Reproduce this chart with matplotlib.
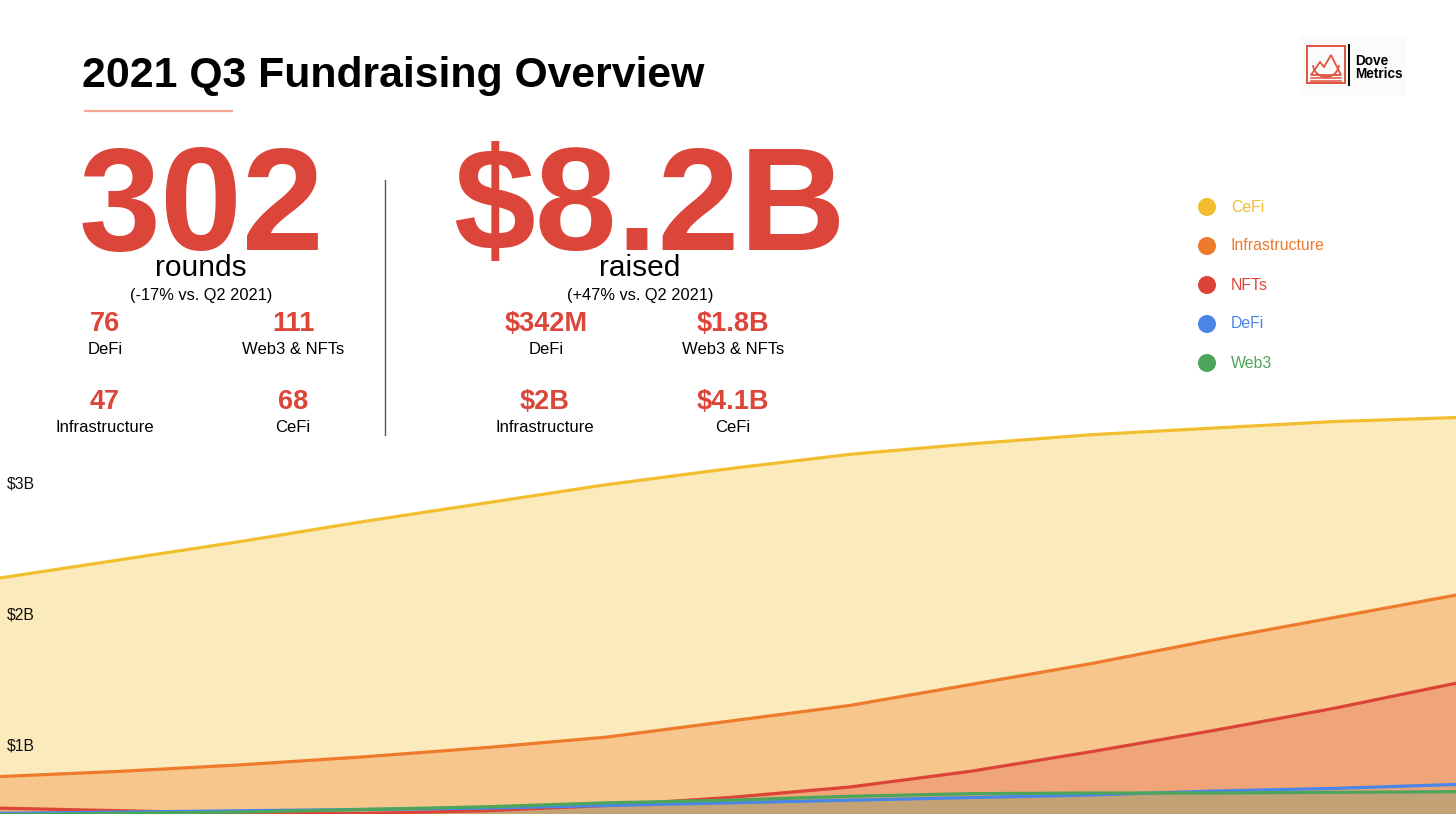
import matplotlib
matplotlib.use("Agg")
import matplotlib.pyplot as plt
from matplotlib.patches import Circle, Rectangle, Polygon, Arc

plt.rcParams['font.family'] = ['Liberation Sans', 'DejaVu Sans']

# ---------------- data (values in $B) ----------------
sample_points = list(range(13))
series_names = ["CeFi", "Infrastructure", "NFTs", "DeFi", "Web3"]
cefi = [2.27, 2.41, 2.55, 2.70, 2.84, 2.98, 3.10, 3.21, 3.29, 3.36, 3.41, 3.46, 3.49]
infrastructure = [0.76, 0.80, 0.85, 0.91, 0.98, 1.06, 1.18, 1.30, 1.46, 1.62, 1.80, 1.97, 2.14]
nfts = [0.52, 0.50, 0.48, 0.48, 0.50, 0.54, 0.60, 0.68, 0.80, 0.95, 1.11, 1.28, 1.47]
defi = [0.48, 0.49, 0.50, 0.51, 0.52, 0.54, 0.56, 0.58, 0.60, 0.62, 0.65, 0.67, 0.70]
web3 = [0.47, 0.48, 0.49, 0.51, 0.53, 0.56, 0.58, 0.61, 0.63, 0.635, 0.635, 0.64, 0.645]
y_ticks = [1, 2, 3]
y_tick_labels = ["$1B", "$2B", "$3B"]

series_colors = ["#F3BE2E", "#EE7A2C", "#DB4437", "#4A86E8", "#4CA55A"]
fill_alphas = [0.32, 0.32, 0.25, 0.06, 0.22]

W, H = 1456, 814
fig = plt.figure(figsize=(W / 100, H / 100), dpi=100)
fig.patch.set_facecolor("white")

# ---------------- chart ----------------
ax = fig.add_axes([0, 0, 1, 1])
ax.set_facecolor("none")
values = [cefi, infrastructure, nfts, defi, web3]
for vals, col, a in zip(values, series_colors, fill_alphas):
    ax.fill_between(sample_points, 0, vals, color=col, alpha=a, lw=0)
for vals, col in zip(values, series_colors):
    ax.plot(sample_points, vals, color=col, lw=2.3, solid_capstyle="round",
            solid_joinstyle="round")

px_per_b = 131.5
zero_px = 876.5
ax.set_xlim(sample_points[0], sample_points[-1])
ax.set_ylim((zero_px - H) / px_per_b, zero_px / px_per_b)
for s in ax.spines.values():
    s.set_visible(False)
ax.set_xticks([])
ax.set_yticks(y_ticks)
ax.set_yticklabels(y_tick_labels)
ax.tick_params(axis="y", length=0, pad=-5, labelsize=11.3, labelcolor="#111111")
for lbl in ax.get_yticklabels():
    lbl.set_horizontalalignment("left")

# ---------------- overlay (pixel coordinates) ----------------
ov = fig.add_axes([0, 0, 1, 1])
ov.set_xlim(0, W)
ov.set_ylim(H, 0)
ov.axis("off")
ov.patch.set_alpha(0)

RED = "#DC4539"

ov.text(82, 87, "2021 Q3 Fundraising Overview", fontsize=30.8, fontweight="bold",
        color="black", ha="left", va="baseline")
ov.plot([85, 232], [111, 111], color="#F4A898", lw=1.6)

# left block
ov.text(201, 250, "302", fontsize=106, fontweight="bold", color=RED, ha="center", va="baseline")
ov.text(201, 276, "rounds", fontsize=21.5, color="black", ha="center", va="baseline")
ov.text(201, 300, "(-17% vs. Q2 2021)", fontsize=11.8, color="black", ha="center", va="baseline")
left_stats = [(105, 331, "76", "DeFi"), (293, 331, "111", "Web3 & NFTs"),
              (105, 409, "47", "Infrastructure"), (293, 409, "68", "CeFi")]
for x, y, num, lab in left_stats:
    ov.text(x, y, num, fontsize=19.5, fontweight="bold", color=RED, ha="center", va="baseline")
    ov.text(x, y + 23, lab, fontsize=12, color="black", ha="center", va="baseline")

ov.plot([385, 385], [180, 435], color="#555555", lw=1)

# right block
ov.text(649, 250, "$8.2B", fontsize=106, fontweight="bold", color=RED, ha="center", va="baseline")
ov.text(640, 276, "raised", fontsize=21.5, color="black", ha="center", va="baseline")
ov.text(640, 300, "(+47% vs. Q2 2021)", fontsize=11.8, color="black", ha="center", va="baseline")
right_stats = [(546, 331, "$342M", "DeFi"), (733, 331, "$1.8B", "Web3 & NFTs"),
               (545, 409, "$2B", "Infrastructure"), (733, 409, "$4.1B", "CeFi")]
for x, y, num, lab in right_stats:
    ov.text(x, y, num, fontsize=19.5, fontweight="bold", color=RED, ha="center", va="baseline")
    ov.text(x, y + 23, lab, fontsize=12, color="black", ha="center", va="baseline")

# legend
legend_y = [207, 246, 285, 324, 363]
for name, col, ly in zip(series_names, series_colors, legend_y):
    ov.add_patch(Circle((1207, ly), 9, color=col, lw=0))
    ov.text(1231, ly, name, fontsize=11.4, color=col, ha="left", va="center")

# logo
LR = "#E0533F"
ov.add_patch(Rectangle((1299, 36), 107, 60, facecolor="#FBFBFB", edgecolor="none"))
ov.add_patch(Rectangle((1307, 46), 38, 37, fill=False, edgecolor=LR, lw=1.4))
ov.add_patch(Arc((1326, 64), 26, 26, theta1=5, theta2=175, color=LR, lw=1.3))
ov.add_patch(Polygon([(1311, 75), (1320, 62), (1324, 67), (1331, 55), (1341, 75)],
                     closed=True, fill=False, edgecolor=LR, lw=1.3))
ov.plot([1311, 1341], [78, 78], color=LR, lw=1.1)
ov.plot([1311, 1341], [81, 81], color=LR, lw=1.1)
ov.plot([1349, 1349], [45, 85], color="black", lw=1.4)
ov.text(1355, 61, "Dove", fontsize=9.8, fontweight="bold", color="black", ha="left", va="center")
ov.text(1355, 74, "Metrics", fontsize=9.8, fontweight="bold", color="black", ha="left", va="center")

fig.savefig("out.png", dpi=100)
